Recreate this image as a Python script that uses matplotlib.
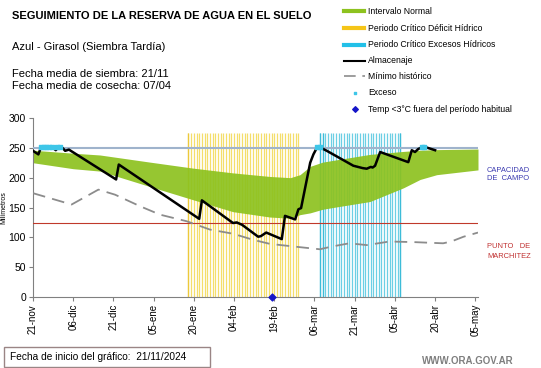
import numpy as np
import matplotlib
matplotlib.use("Agg")
import matplotlib.pyplot as plt
from matplotlib.patches import Rectangle

plt.rcParams["font.family"] = ["Liberation Sans", "DejaVu Sans"]

# ==========================
# DATA (dias desde 21-nov-2024)
# ==========================

tick_dias = [0, 15, 30, 45, 60, 75, 90, 105, 120, 135, 150, 165]
tick_labels = ["21-nov", "06-dic", "21-dic", "05-ene", "20-ene", "04-feb",
               "19-feb", "06-mar", "21-mar", "05-abr", "20-abr", "05-may"]

# Intervalo normal (banda verde)
banda_dias = [0, 15, 25, 43.7, 59.7, 74.6, 88.4, 96, 99.6, 103.4, 108,
              113.3, 125.7, 138.2, 144.4, 150.6, 166]
banda_sup = [246, 241, 238, 226, 216, 208, 202, 200, 205, 219, 226,
             230, 239, 244, 246, 247, 248]
banda_inf = [225, 215, 211, 185, 163, 143, 134, 132, 138, 141, 147,
             151, 160, 183, 197, 205, 213]

# Almacenaje
alm_dias = [0, 2, 3, 5, 7.5, 8.5, 9.5, 11, 12, 13.4, 31, 32, 62, 63,
            74.6, 76, 78, 84, 85, 87, 92.8, 94, 97.8, 99, 100, 103.4,
            104.6, 106, 107, 109.6, 119.5, 123, 124.5, 126, 126.7, 127.6,
            129.5, 140, 141.3, 142.5, 143.7, 145.6, 146.5, 150]
alm_vals = [245, 239, 251, 251, 250, 246, 251, 250, 245, 247, 197, 222,
            131, 162, 124, 125, 121, 101, 102, 108, 97, 136, 130, 147, 149,
            225, 239, 251, 251, 245, 220, 216, 215, 218, 217, 220,
            243, 226, 246, 243, 248, 252, 251, 246]

# Minimo historico
min_dias = [0, 14.4, 24.4, 30.6, 40, 47.4, 57.3, 66, 74.7, 82, 88.4,
            99.6, 107, 111.5, 118, 124.5, 133, 142, 153, 156, 160.6, 166]
min_vals = [174, 155, 180, 171.5, 152, 138, 127, 113, 106, 96, 89,
            83.5, 80, 84.6, 90, 87, 93, 92, 90, 93, 101, 108]

# Exceso
exceso_dias = [3, 4, 5, 6, 7, 9, 10, 106, 107, 145, 146]
exceso_vals = [252, 252, 252, 252, 252, 252, 252, 252, 252, 252, 252]

# Periodos criticos
deficit_ini, deficit_fin = 58, 99
excesos_ini, excesos_fin = 107, 137
altura_periodo = 275

# Temp < 3 C
temp_dias = [89]
temp_vals = [0]

capacidad_campo = 250
punto_marchitez = 124

# ==========================
# FIGURE
# ==========================

fig = plt.figure(figsize=(5.41, 3.68), dpi=100)
ax = fig.add_axes([33 / 541, 71 / 368, 445 / 541, 179 / 368])

ax.vlines(np.arange(deficit_ini, deficit_fin + 1), 0, altura_periodo,
          color="#F4DE6A", linewidth=0.9, zorder=1)
ax.vlines(np.arange(excesos_ini, excesos_fin + 1), 0, altura_periodo,
          color="#6CCFE4", linewidth=0.9, zorder=1)
ax.vlines([deficit_ini, excesos_ini, excesos_ini + 1, excesos_fin], 0,
          altura_periodo, color=["#EDC93A", "#3DBCD8", "#3DBCD8", "#3DBCD8"],
          linewidth=0.9, zorder=1)

ax.fill_between(banda_dias, banda_inf, banda_sup, color="#8DC21F",
                linewidth=0, alpha=0.92, zorder=2)

ax.axhline(capacidad_campo, color="#9FB3CC", linewidth=1.5, zorder=3)
ax.axhline(punto_marchitez, color="#C0392B", linewidth=0.8, zorder=3)

ax.plot(min_dias, min_vals, color="#8C8C8C", linewidth=1.3,
        dashes=(7, 4), zorder=3)
ax.plot(alm_dias, alm_vals, color="black", linewidth=1.8, zorder=4)
ax.scatter(exceso_dias, exceso_vals, marker="s", s=5, color="#3EC6E8",
           zorder=5)
ax.scatter(temp_dias, temp_vals, marker="D", s=12, color="#1515C8",
           zorder=6, clip_on=False)

ax.set_xlim(0, 166)
ax.set_ylim(0, 300)
ax.set_xticks(tick_dias)
ax.set_xticklabels(tick_labels, rotation=90, fontsize=7)
ax.set_yticks(np.arange(0, 301, 50))
ax.tick_params(axis="y", labelsize=7.5, length=3, color="#808080", pad=2)
ax.tick_params(axis="x", length=3, color="#808080", pad=2)
for s in ["top", "right"]:
    ax.spines[s].set_visible(False)
for s in ["left", "bottom"]:
    ax.spines[s].set_color("#808080")
    ax.spines[s].set_linewidth(0.8)

ax.set_ylabel("Milímetros", fontsize=5)
ax.yaxis.set_label_coords(-0.058, 0.5)

# ==========================
# TEXTS / LEGEND (pixel overlay)
# ==========================

ov = fig.add_axes([0, 0, 1, 1], zorder=-1)
ov.set_xlim(0, 541)
ov.set_ylim(368, 0)
ov.axis("off")

ov.text(12, 16.2, "SEGUIMIENTO DE LA RESERVA DE AGUA EN EL SUELO",
        fontsize=8.0, fontweight="bold", va="center")
ov.text(12, 47, "Azul - Girasol (Siembra Tardía)", fontsize=8, va="center")
ov.text(12, 73.9, "Fecha media de siembra: 21/11", fontsize=8, va="center")
ov.text(12, 85.9, "Fecha media de cosecha: 07/04", fontsize=8, va="center")

leg_y = [11.3, 28.2, 44.7, 60.5, 76.3, 92.8, 109.3]
leg_txt = ["Intervalo Normal", "Periodo Crítico Déficit Hídrico",
           "Periodo Crítico Excesos Hídricos", "Almacenaje",
           "Mínimo histórico", "Exceso",
           "Temp <3°C fuera del período habitual"]
for yy, tt in zip(leg_y, leg_txt):
    ov.text(368, yy, tt, fontsize=6.2, va="center")
ov.plot([344, 364], [leg_y[0]] * 2, color="#8DC21F", linewidth=3)
ov.plot([344, 364], [leg_y[1]] * 2, color="#F5C518", linewidth=3)
ov.plot([344, 364], [leg_y[2]] * 2, color="#22C0E8", linewidth=3)
ov.plot([344, 365], [leg_y[3]] * 2, color="black", linewidth=1.5)
ov.plot([344, 365], [leg_y[4]] * 2, color="#8C8C8C", linewidth=1.2,
        dashes=(7, 4))
ov.scatter([355], [leg_y[5]], marker="s", s=4, color="#3EC6E8")
ov.scatter([355], [leg_y[6]], marker="D", s=8, color="#1515C8")

ov.text(487, 170, "CAPACIDAD", fontsize=5.4, color="#3A3AB0", va="center")
ov.text(487, 179, "DE  CAMPO", fontsize=5.4, color="#3A3AB0", va="center")
ov.text(487, 247, "PUNTO   DE", fontsize=5.4, color="#C03030", va="center")
ov.text(487, 256, "MARCHITEZ", fontsize=5.4, color="#C03030", va="center")

ov.add_patch(Rectangle((4, 347), 206, 19.5, fill=False,
                       edgecolor="#9A8585", linewidth=1))
ov.text(10, 357, "Fecha de inicio del gráfico:  21/11/2024",
        fontsize=7.3, va="center")
ov.text(514, 361, "WWW.ORA.GOV.AR", fontsize=7, color="#7F7F7F",
        fontweight="bold", va="center", ha="right")

fig.savefig("out.png", dpi=100)
